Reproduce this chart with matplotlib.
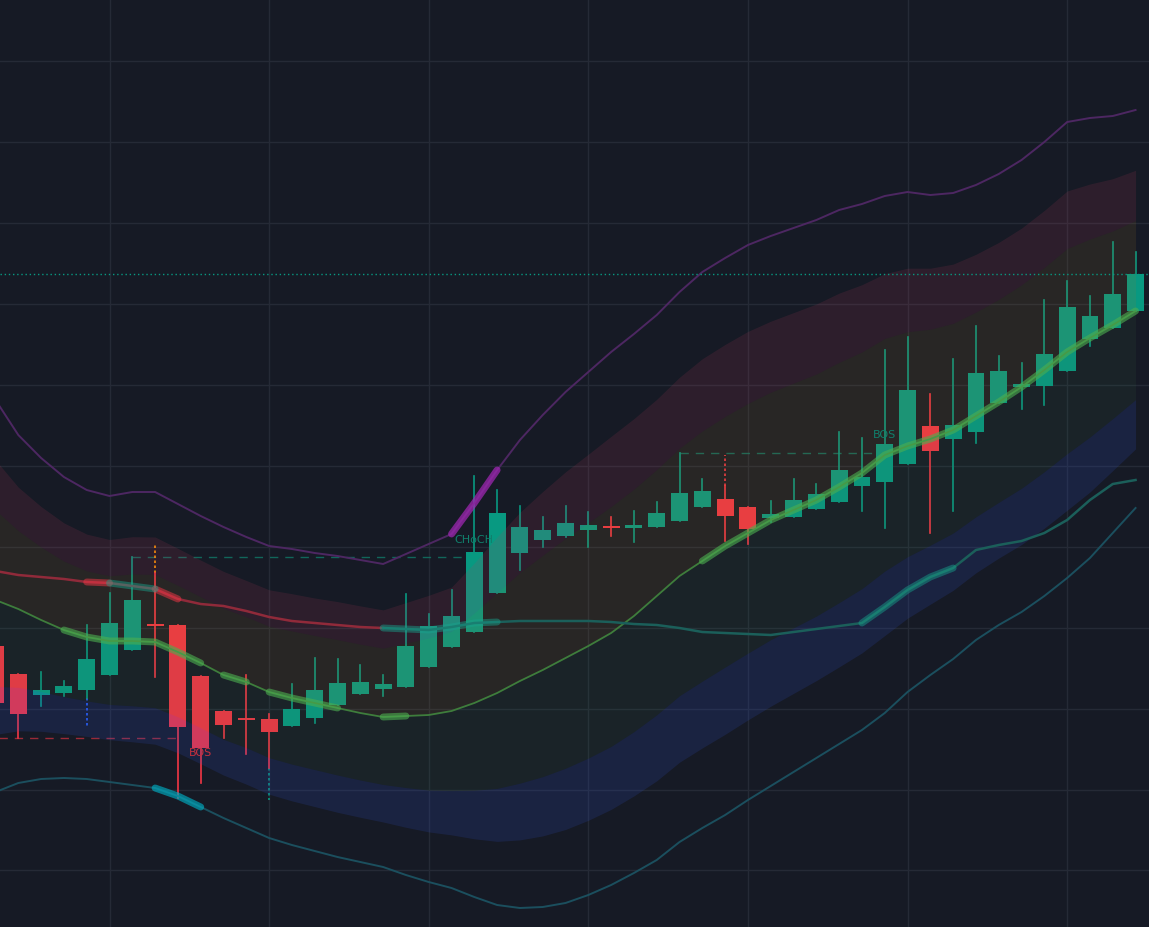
import numpy as np
import matplotlib.pyplot as plt

# candles (price units, index 0..50)
opens = [28.1, 25.3, 23.2, 23.4, 23.7, 25.2, 27.7, 30.2, 30.2, 25.1,
         21.6, 20.9, 20.8, 20.1, 20.9, 22.2, 23.3, 23.8, 24.0, 26.0,
         28.0, 29.5, 33.4, 37.4, 38.7, 39.1, 39.7, 40.0, 39.9, 40.0,
         40.6, 42.0, 42.8, 42.0, 40.9, 41.0, 41.8, 42.5, 44.1, 44.5,
         46.3, 50.1, 48.8, 49.5, 52.4, 54.0, 54.1, 55.6, 58.8, 59.9, 61.6]
highs = [28.1, 25.3, 25.5, 24.6, 30.2, 33.4, 37.0, 35.4, 30.2, 25.1,
         21.6, 25.2, 21.3, 24.3, 26.9, 26.8, 26.2, 25.2, 33.3, 31.3,
         33.7, 45.1, 43.7, 42.1, 41.0, 42.1, 41.5, 41.0, 41.6, 42.5,
         47.4, 44.8, 44.1, 42.0, 42.6, 44.8, 44.3, 49.5, 48.9, 57.7,
         59.0, 53.3, 56.8, 60.1, 57.1, 56.4, 62.7, 64.6, 63.1, 68.5, 67.5]
lows = [22.4, 18.9, 22.1, 23.1, 22.9, 25.2, 27.7, 25.0, 12.9, 14.4,
        18.9, 17.3, 15.9, 20.1, 20.4, 22.2, 23.3, 23.1, 24.0, 26.0,
        28.0, 29.5, 33.4, 35.7, 38.0, 39.0, 38.0, 39.1, 38.5, 40.0,
        40.6, 42.0, 38.6, 38.3, 40.5, 41.0, 41.8, 42.5, 41.6, 39.9,
        46.3, 39.4, 41.6, 48.4, 52.4, 51.8, 52.2, 55.6, 58.1, 59.9, 61.6]
closes = [22.4, 21.3, 23.7, 24.1, 26.8, 30.4, 32.7, 30.1, 20.0, 17.9,
          20.2, 20.7, 19.5, 21.8, 23.7, 24.4, 24.5, 24.3, 28.1, 30.1,
          31.1, 37.5, 41.4, 40.0, 39.7, 40.4, 40.2, 39.9, 40.2, 41.4,
          43.4, 43.6, 41.1, 39.8, 41.3, 42.7, 43.3, 45.7, 45.0, 48.3,
          53.7, 47.6, 50.2, 55.4, 55.6, 54.3, 57.3, 62.0, 61.1, 63.3, 65.3]

# basis (green), outer upper (purple), outer lower (cyan), trend line (red/teal)
basis = [32.7, 31.8, 30.7, 29.7, 29.0, 28.6, 28.6, 28.5, 27.5, 26.4,
         25.2, 24.5, 23.5, 22.9, 22.4, 21.9, 21.4, 21.0, 21.1, 21.2,
         21.6, 22.4, 23.4, 24.6, 25.7, 26.9, 28.1, 29.4, 31.1, 33.1,
         35.1, 36.6, 38.1, 39.4, 40.7, 41.7, 42.7, 44.0, 45.4, 47.2,
         48.1, 48.8, 49.7, 51.1, 52.5, 54.0, 55.7, 57.5, 58.9, 60.2, 61.6]
upper = [52.7, 49.2, 46.9, 45.0, 43.7, 43.1, 43.5, 43.5, 42.3, 41.1,
         40.0, 39.0, 38.1, 37.8, 37.4, 37.1, 36.7, 36.3, 37.3, 38.3,
         39.3, 42.4, 45.7, 48.7, 51.2, 53.5, 55.5, 57.5, 59.3, 61.2,
         63.5, 65.5, 66.9, 68.2, 69.1, 69.9, 70.7, 71.7, 72.3, 73.1,
         73.5, 73.2, 73.4, 74.2, 75.3, 76.7, 78.5, 80.5, 80.9, 81.1, 81.7]
lower = [13.5, 14.4, 14.8, 14.9, 14.8, 14.5, 14.2, 13.9, 13.1, 12.0,
         10.9, 9.9, 8.9, 8.2, 7.6, 7.0, 6.5, 6.0, 5.2, 4.5,
         3.9, 3.0, 2.2, 1.9, 2.0, 2.4, 3.2, 4.2, 5.4, 6.7,
         8.5, 9.9, 11.2, 12.7, 14.1, 15.5, 16.9, 18.3, 19.7, 21.4,
         23.5, 25.2, 26.8, 28.7, 30.2, 31.5, 33.1, 34.9, 36.9, 39.4, 41.9]
trend = [35.6, 35.2, 35.0, 34.8, 34.5, 34.4, 34.1, 33.8, 32.8, 32.3,
         32.1, 31.6, 31.0, 30.6, 30.4, 30.2, 30.0, 29.9, 29.8, 29.7,
         30.0, 30.4, 30.5, 30.6, 30.6, 30.6, 30.6, 30.5, 30.3, 30.2,
         29.9, 29.5, 29.4, 29.3, 29.2, 29.5, 29.8, 30.1, 30.4, 32.0,
         33.7, 35.0, 35.9, 37.7, 38.2, 38.6, 39.4, 40.7, 42.7, 44.3, 44.7]
trend_flip = 17  # trend line turns from red to teal here

# highlighted stretches (start index, end index)
basis_marks = [(3, 9), (10, 11), (12, 15), (17, 18), (31, 50)]
trend_red_marks = [(4, 5), (7, 8)]
trend_teal_marks = [(5, 7), (17, 22), (38, 42)]
upper_marks = [(20, 22)]
lower_marks = [(7, 9)]

# market structure: (from, to, level, label, label_x, label_y, colour)
structure = [
    (6, 21, 37.0, "CHoCH", 21, 38.7, "#10806c"),
    (-1, 8.2, 18.9, "BOS", 9, 17.4, "#c8303e"),
    (30, 38.5, 47.4, "BOS", 39, 49.2, "#10806c"),
]
# wick extensions: (index, from, to, colour)
sweeps = [
    (7, 35.4, 38.4, "#ff9800"),
    (32, 44.1, 47.2, "#f23645"),
    (4, 22.9, 20.0, "#2962ff"),
    (12, 15.9, 12.7, "#089981"),
]

BG = "#161a25"
UP = "#089981"
DOWN = "#f23645"

idx = np.arange(len(closes))
basis_a = np.array(basis)
up_w = np.array(upper) - basis_a
dn_w = basis_a - np.array(lower)

fig = plt.figure(figsize=(11.49, 9.27), dpi=100)
fig.patch.set_facecolor(BG)
ax = fig.add_axes([0, 0, 1, 1])
ax.set_facecolor(BG)
ax.set_xlim(0.197, 50.59)
ax.set_ylim(0, 92.7)
ax.axis("off")

for gx in range(5, 51, 7):
    ax.axvline(gx, color="#252a36", lw=1, zorder=0)
for gy in np.arange(5.66, 92.7, 8.09):
    ax.axhline(gy, color="#252a36", lw=1, zorder=0)

# structure lines and labels
for a, b, lvl, text, tx, ty, col in structure:
    ax.plot([a, b], [lvl, lvl], color=col, lw=1, ls=(0, (6, 5)), alpha=0.75, zorder=1)
    ax.text(tx, ty, text, color=col, fontsize=8, ha="center", va="center", zorder=8)

for i, y0, y1, col in sweeps:
    ax.plot([i, i], [y0, y1], color=col, lw=1.2, ls=(0, (1.5, 1.5)), zorder=1)

# candles
for i in idx:
    o, h, l, c = opens[i], highs[i], lows[i], closes[i]
    col = UP if c >= o else DOWN
    ax.plot([i, i], [l, h], color=col, lw=1.2, zorder=2)
    bot, top = min(o, c), max(o, c)
    ax.bar(i, max(top - bot, 0.25), bottom=bot, width=0.74, color=col, lw=0, zorder=2)

# bands around basis, laid over the candles
ax.fill_between(idx, basis_a + 0.45 * up_w, basis_a + 0.70 * up_w,
                color="#c03a5a", alpha=0.14, lw=0, zorder=3)
ax.fill_between(idx, basis_a, basis_a + 0.45 * up_w,
                color="#a8782a", alpha=0.13, lw=0, zorder=3)
ax.fill_between(idx, basis_a - 0.45 * dn_w, basis_a,
                color="#3f7a4a", alpha=0.10, lw=0, zorder=3)
ax.fill_between(idx, basis_a - 0.70 * dn_w, basis_a - 0.45 * dn_w,
                color="#3050d0", alpha=0.17, lw=0, zorder=3)

# lines
ax.plot(idx, upper, color="#4d2762", lw=1.4, zorder=4)
ax.plot(idx, lower, color="#1b4f5e", lw=1.4, zorder=4)
ax.plot(idx, basis, color="#3e7d3c", lw=1.3, zorder=4)
ax.plot(idx[:trend_flip + 1], trend[:trend_flip + 1], color="#902a3a", lw=1.8, zorder=4)
ax.plot(idx[trend_flip:], trend[trend_flip:], color="#1b5f5a", lw=1.8, zorder=4)


def mark(series, spans, colour, alpha):
    for a, b in spans:
        ax.plot(idx[a:b + 1], series[a:b + 1], color=colour, lw=5,
                alpha=alpha, solid_capstyle="round", zorder=5)


mark(basis, basis_marks, "#4caf50", 0.6)
mark(trend, trend_red_marks, "#f23645", 0.5)
mark(trend, trend_teal_marks, "#17a58f", 0.45)
mark(upper, upper_marks, "#9c27b0", 0.75)
mark(lower, lower_marks, "#00acc1", 0.65)

# last price line
ax.axhline(closes[-1], color="#089981", lw=1, ls=(0, (1, 2)), zorder=6)

fig.savefig("out.png", dpi=100, facecolor=BG)
